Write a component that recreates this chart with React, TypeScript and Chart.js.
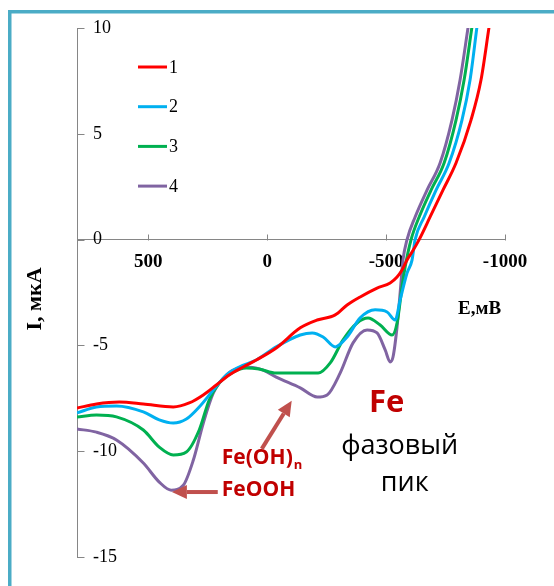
import { useEffect, useRef } from 'react';
import { Chart, registerables } from 'chart.js';

Chart.register(...registerables);

// ---- data (E in mV, I in µA) ----
const seriesLabels = ['1', '2', '3', '4'];
const seriesColors = ['#ff0000', '#00b0f0', '#00b050', '#8064a2'];

const e1 = [800, 718, 622, 521, 395, 328, 269, 214, 160, 101, 46, -38, -139, -210, -286, -336, -391, -462, -517, -546, -567, -588, -609, -639, -685, -739, -794, -857, -899, -933];
const i1 = [-7.96, -7.77, -7.68, -7.77, -7.91, -7.72, -7.34, -6.87, -6.4, -6.02, -5.69, -5.12, -4.17, -3.8, -3.56, -3.09, -2.71, -2.29, -2.05, -1.77, -1.44, -0.96, -0.59, 0, 1.07, 2.34, 3.62, 5.65, 7.54, 10.05];

const e2 = [800, 718, 634, 521, 454, 395, 340, 286, 227, 172, 118, 46, -38, -139, -189, -235, -286, -336, -391, -454, -504, -538, -559, -588, -609, -622, -660, -710, -765, -819, -853, -882];
const i2 = [-8.19, -7.91, -7.86, -8.14, -8.52, -8.67, -8.48, -7.91, -7.11, -6.4, -6.02, -5.69, -5.07, -4.51, -4.41, -4.6, -5.07, -4.6, -3.7, -3.32, -3.42, -3.8, -2.85, -1.58, -0.97, 0, 1.07, 2.34, 3.62, 5.65, 7.54, 10.05];

const e3 = [800, 718, 634, 521, 454, 395, 340, 286, 244, 202, 143, 88, 34, -38, -139, -214, -265, -319, -378, -424, -475, -525, -546, -567, -580, -605, -639, -689, -744, -794, -828, -861];
const i3 = [-8.38, -8.29, -8.38, -9.0, -9.81, -10.18, -10.04, -9.0, -7.58, -6.78, -6.26, -6.07, -6.12, -6.31, -6.31, -6.31, -5.83, -4.74, -3.94, -3.71, -4.04, -4.51, -3.94, -2.24, -1.29, 0, 1.07, 2.34, 3.62, 5.65, 7.54, 10.05];

const e4 = [800, 718, 634, 521, 454, 404, 353, 311, 269, 227, 172, 118, 76, 17, -38, -139, -210, -252, -307, -361, -420, -462, -496, -517, -529, -546, -559, -571, -588, -622, -672, -727, -777, -811, -845];
const i4 = [-8.95, -9.1, -9.47, -10.56, -11.46, -11.84, -11.61, -10.43, -8.68, -7.26, -6.4, -6.07, -6.03, -6.17, -6.5, -7.01, -7.44, -7.34, -6.3, -4.88, -4.27, -4.41, -5.21, -5.78, -5.55, -4.13, -2.52, -0.96, 0, 1.07, 2.34, 3.62, 5.65, 7.54, 10.05];

const xTicks = [500, 0, -500, -1000];
const yTicks = [10, 5, 0, -5, -10, -15];

const xTitle = 'E,мВ';
const yTitle = 'I, мкА';

const seriesE = [e1, e2, e3, e4];
const seriesI = [i1, i2, i3, i4];

const AXIS_GRAY = '#868686';
const ANNOT_RED = '#c00000';
const ARROW_RED = '#c0504d';
const SANS = '"Open Sans", "Noto Sans", sans-serif';
const SERIF = '"Liberation Serif", "DejaVu Serif", serif';

function drawArrow(ctx: CanvasRenderingContext2D, x0: number, y0: number, x1: number, y1: number) {
  const ang = Math.atan2(y1 - y0, x1 - x0);
  const headLen = 15;
  const headW = 7;
  const bx = x1 - Math.cos(ang) * headLen;
  const by = y1 - Math.sin(ang) * headLen;
  ctx.strokeStyle = ARROW_RED;
  ctx.fillStyle = ARROW_RED;
  ctx.lineWidth = 4;
  ctx.beginPath();
  ctx.moveTo(x0, y0);
  ctx.lineTo(bx, by);
  ctx.stroke();
  ctx.beginPath();
  ctx.moveTo(x1, y1);
  ctx.lineTo(bx + Math.sin(ang) * headW, by - Math.cos(ang) * headW);
  ctx.lineTo(bx - Math.sin(ang) * headW, by + Math.cos(ang) * headW);
  ctx.closePath();
  ctx.fill();
}

const framePlugin = {
  id: 'frame',
  beforeDraw(chart: any) {
    const ctx = chart.ctx as CanvasRenderingContext2D;
    ctx.save();
    ctx.fillStyle = '#ffffff';
    ctx.fillRect(0, 0, chart.width, chart.height);
    ctx.fillStyle = '#4bacc6';
    ctx.fillRect(8, 10, chart.width - 8, 3.5);
    ctx.fillRect(8, 10, 3.5, chart.height - 10);
    ctx.restore();
  },
};

const decorPlugin = {
  id: 'decor',
  afterDraw(chart: any) {
    const ctx = chart.ctx as CanvasRenderingContext2D;
    const xs = chart.scales.x;
    const ys = chart.scales.y;
    const px = (v: number) => xs.getPixelForValue(v);
    const py = (v: number) => ys.getPixelForValue(v);
    ctx.save();

    // tick marks (inward)
    ctx.strokeStyle = AXIS_GRAY;
    ctx.lineWidth = 1;
    const y0 = Math.round(py(0)) + 0.5;
    xTicks.forEach((v) => {
      const x = Math.round(px(v)) + 0.5;
      ctx.beginPath();
      ctx.moveTo(x, y0);
      ctx.lineTo(x, y0 - 6);
      ctx.stroke();
    });
    const xl = Math.round(chart.chartArea.left) + 0.5;
    yTicks.forEach((v) => {
      const y = Math.round(py(v)) + 0.5;
      ctx.beginPath();
      ctx.moveTo(xl, y);
      ctx.lineTo(xl + 7, y);
      ctx.stroke();
    });

    // legend
    chart.data.datasets.forEach((ds: any, k: number) => {
      const ly = 67 + k * 39.7;
      ctx.strokeStyle = ds.borderColor;
      ctx.lineWidth = 3;
      ctx.beginPath();
      ctx.moveTo(138, ly);
      ctx.lineTo(167, ly);
      ctx.stroke();
      ctx.fillStyle = '#000';
      ctx.font = `18px ${SERIF}`;
      ctx.textAlign = 'left';
      ctx.textBaseline = 'middle';
      ctx.fillText(ds.label, 169, ly + 1);
    });

    // axis titles
    ctx.fillStyle = '#000';
    ctx.font = `bold 19px ${SERIF}`;
    ctx.textAlign = 'center';
    ctx.textBaseline = 'middle';
    ctx.fillText(xTitle, px(-893), py(-3.28));
    ctx.save();
    ctx.translate(35, 299);
    ctx.rotate(-Math.PI / 2);
    ctx.font = `bold 22px ${SERIF}`;
    ctx.fillText(yTitle, 0, 0);
    ctx.restore();

    // annotations
    ctx.fillStyle = ANNOT_RED;
    ctx.font = `bold 31px ${SANS}`;
    ctx.textAlign = 'center';
    ctx.fillText('Fe', px(-502), py(-7.72));
    ctx.fillStyle = '#000';
    ctx.font = `27px ${SANS}`;
    ctx.fillText('фазовый', px(-557), py(-9.75));
    ctx.fillText('пик', px(-578), py(-11.5));

    ctx.fillStyle = ANNOT_RED;
    ctx.textAlign = 'left';
    ctx.font = `bold 21px ${SANS}`;
    const tx = px(191);
    const ty1 = py(-10.32);
    ctx.fillText('Fe(OH)', tx, ty1);
    const w = ctx.measureText('Fe(OH)').width;
    ctx.font = `bold 13px ${SANS}`;
    ctx.fillText('n', tx + w + 1, ty1 + 7);
    ctx.font = `bold 21px ${SANS}`;
    ctx.fillText('FeOOH', tx, py(-11.84));

    drawArrow(ctx, px(208), py(-11.93), px(401), py(-11.93));
    drawArrow(ctx, px(23), py(-9.89), px(-103), py(-7.62));

    ctx.restore();
  },
};

export default function App() {
  const ref = useRef<HTMLCanvasElement>(null);

  useEffect(() => {
    if (!ref.current) return;
    const datasets = seriesLabels.map((label, k) => ({
      label,
      data: seriesE[k].map((e, j) => ({ x: e, y: seriesI[k][j] })),
      borderColor: seriesColors[k],
      backgroundColor: seriesColors[k],
      borderWidth: 3,
      pointRadius: 0,
      fill: false,
      cubicInterpolationMode: 'monotone' as const,
    }));

    const chart = new Chart(ref.current, {
      type: 'line',
      data: { datasets },
      options: {
        responsive: false,
        devicePixelRatio: 1,
        animation: false,
        layout: { padding: { left: 0, top: 28, right: 49, bottom: 29 } },
        plugins: {
          legend: { display: false },
          tooltip: { enabled: false },
        },
        scales: {
          x: {
            type: 'linear',
            reverse: true,
            min: -1000,
            max: 800,
            position: { y: 0 } as any,
            grid: { display: false, drawTicks: false },
            border: { display: true, color: AXIS_GRAY, width: 1 },
            ticks: {
              padding: 11,
              color: '#000',
              maxRotation: 0,
              autoSkip: false,
              font: { family: SERIF, size: 19, weight: 'bold' },
              callback: (v: any) => String(v),
            },
            afterBuildTicks: (s: any) => {
              s.ticks = xTicks.map((v) => ({ value: v }));
            },
          },
          y: {
            type: 'linear',
            min: -15,
            max: 10,
            position: 'left',
            grid: { display: false, drawTicks: false },
            border: { display: true, color: AXIS_GRAY, width: 1 },
            ticks: {
              mirror: true,
              padding: 16,
              color: '#000',
              font: { family: SERIF, size: 18 },
              callback: (v: any) => String(v),
            },
            afterBuildTicks: (s: any) => {
              s.ticks = yTicks.map((v) => ({ value: v }));
            },
            afterFit: (s: any) => {
              s.width = 77;
            },
          },
        },
      },
      plugins: [framePlugin, decorPlugin],
    });
    return () => chart.destroy();
  }, []);

  return (
    <div style={{ position: 'absolute', left: 0, top: 0, width: 554, height: 586, overflow: 'hidden' }}>
      <canvas ref={ref} width={554} height={586} style={{ display: 'block', width: 554, height: 586 }} />
    </div>
  );
}
